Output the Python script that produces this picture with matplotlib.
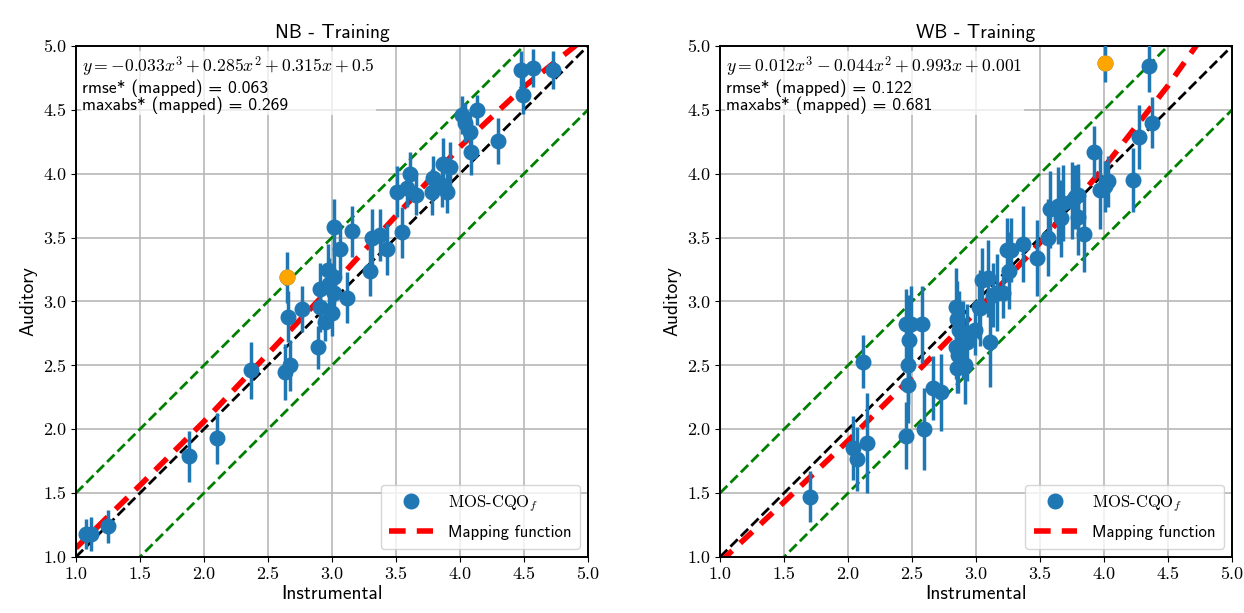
import numpy as np
import matplotlib.pyplot as plt

'''
DATA
'''

# NB - Training: instrumental score, auditory score, confidence interval
nb_x = [1.08, 1.12, 1.25, 1.88, 2.10, 2.37, 2.63, 2.67, 2.66, 2.65,
        2.77, 2.89, 2.91, 2.91, 2.95, 3.00, 2.98, 2.97, 3.02, 3.02,
        3.02, 3.06, 3.12, 3.16, 3.30, 3.31, 3.375, 3.43, 3.55, 3.51,
        3.61, 3.66, 3.59, 3.78, 3.79, 3.86, 3.87, 3.90, 3.92, 4.02,
        4.04, 4.08, 4.09, 4.13, 4.30, 4.48, 4.49, 4.57, 4.73]
nb_y = [1.18, 1.18, 1.24, 1.79, 1.93, 2.46, 2.45, 2.50, 2.88, 3.19,
        2.94, 2.64, 2.96, 3.10, 2.84, 2.91, 3.14, 3.25, 3.19, 3.07,
        3.58, 3.41, 3.03, 3.55, 3.24, 3.50, 3.52, 3.41, 3.54, 3.86,
        4.00, 3.83, 3.89, 3.86, 3.97, 3.91, 4.08, 3.86, 4.05, 4.46,
        4.40, 4.33, 4.17, 4.50, 4.26, 4.81, 4.62, 4.83, 4.81]
nb_err = [0.12, 0.13, 0.13, 0.20, 0.20, 0.22, 0.22, 0.20, 0.20, 0.20,
          0.18, 0.17, 0.20, 0.20, 0.15, 0.18, 0.20, 0.20, 0.20, 0.18,
          0.22, 0.20, 0.20, 0.20, 0.20, 0.22, 0.20, 0.20, 0.20, 0.20,
          0.17, 0.15, 0.15, 0.18, 0.17, 0.17, 0.20, 0.17, 0.20, 0.15,
          0.15, 0.15, 0.18, 0.12, 0.18, 0.15, 0.15, 0.15, 0.15]
nb_worst = (2.65, 3.19)

# Mapping function
nb_map_x = [1.0, 1.5, 2.0, 2.5, 3.0, 3.5, 4.0, 4.5, 5.0]
nb_map_y = [1.07, 1.56, 2.06, 2.59, 3.12, 3.67, 4.21, 4.68, 5.08]
nb_text = ('$y = -0.033x^3 + 0.285x^2 + 0.315x + 0.5$\n'
           'rmse* (mapped) = 0.063\n'
           'maxabs* (mapped) = 0.269')

# WB - Training
wb_x = [1.70, 2.04, 2.07, 2.12, 2.15, 2.45, 2.59, 2.47, 2.47, 2.48,
        2.45, 2.49, 2.58, 2.66, 2.73, 2.84, 2.85, 2.84, 2.86, 2.85,
        2.91, 2.93, 2.90, 2.87, 2.99, 3.03, 3.11, 3.02, 3.05, 3.09,
        3.13, 3.21, 3.16, 3.24, 3.26, 3.27, 3.37, 3.48, 3.56, 3.58,
        3.64, 3.66, 3.68, 3.75, 3.77, 3.80, 3.80, 3.84, 3.92, 3.97,
        4.01, 4.03, 4.01, 4.23, 4.27, 4.375, 4.35]
wb_y = [1.47, 1.85, 1.77, 2.53, 1.89, 1.95, 2.00, 2.35, 2.50, 2.70,
        2.82, 2.82, 2.82, 2.32, 2.29, 2.96, 2.86, 2.64, 2.58, 2.48,
        2.50, 2.68, 2.70, 2.78, 2.78, 2.95, 2.68, 2.96, 3.17, 3.18,
        3.05, 3.07, 3.07, 3.40, 3.24, 3.40, 3.45, 3.34, 3.50, 3.72,
        3.75, 3.65, 3.77, 3.79, 3.82, 3.83, 3.66, 3.53, 4.17, 3.87,
        3.90, 3.94, 4.87, 3.95, 4.29, 4.40, 4.84]
wb_err = [0.20, 0.25, 0.25, 0.21, 0.39, 0.26, 0.32, 0.30, 0.30, 0.35,
          0.28, 0.30, 0.30, 0.25, 0.30, 0.30, 0.30, 0.25, 0.30, 0.20,
          0.30, 0.30, 0.30, 0.30, 0.20, 0.30, 0.35, 0.25, 0.25, 0.30,
          0.25, 0.20, 0.30, 0.25, 0.30, 0.25, 0.30, 0.30, 0.30, 0.30,
          0.30, 0.30, 0.30, 0.30, 0.25, 0.25, 0.30, 0.30, 0.20, 0.30,
          0.20, 0.20, 0.15, 0.25, 0.25, 0.20, 0.20]
wb_worst = (4.01, 4.87)

wb_map_x = [1.0, 1.5, 2.0, 2.5, 3.0, 3.5, 4.0, 4.5, 5.0]
wb_map_y = [0.96, 1.43, 1.91, 2.41, 2.92, 3.46, 4.05, 4.69, 5.40]
wb_text = ('$y = 0.012x^3 - 0.044x^2 + 0.993x + 0.001$\n'
           'rmse* (mapped) = 0.122\n'
           'maxabs* (mapped) = 0.681')

# Identity line and +/- 0.5 band
ref_x = [1.0, 5.0]
ref_y = [1.0, 5.0]
band = 0.5
ticks = [1.0, 1.5, 2.0, 2.5, 3.0, 3.5, 4.0, 4.5, 5.0]

'''
DATA VISUALIZATION
'''

plt.rcParams['mathtext.fontset'] = 'cm'
plt.rcParams['font.family'] = ['cmss10', 'DejaVu Sans']
plt.rcParams['axes.unicode_minus'] = False

fig = plt.figure(figsize=(12.44, 6.13), dpi=100)
ax_nb = fig.add_axes([0.061, 0.0914, 0.4116, 0.8336])
ax_wb = fig.add_axes([0.5788, 0.0914, 0.4116, 0.8336])


def show_training_graph(ax, title, xdata, ydata, err, worst, map_x, map_y, text):
    # Reference lines
    ax.plot(ref_x, ref_y, '--', color='black', lw=2, zorder=2)
    ax.plot(ref_x, [v + band for v in ref_y], '--', color='green', lw=2, zorder=2)
    ax.plot(ref_x, [v - band for v in ref_y], '--', color='green', lw=2, zorder=2)
    ax.plot(map_x, map_y, '--', color='red', lw=4, dashes=(3, 2),
            zorder=2.5, label='Mapping function')

    # Points with confidence intervals
    ax.errorbar(xdata, ydata, yerr=err, fmt='none', ecolor='#1f77b4',
                elinewidth=2.5, zorder=3)
    ax.plot(xdata, ydata, 'o', color='#1f77b4', ms=10.5, zorder=4,
            label='MOS-CQO$_f$')
    ax.plot([worst[0]], [worst[1]], 'o', color='orange', ms=10.5, zorder=5)

    ax.set_xlim(1.0, 5.0)
    ax.set_ylim(1.0, 5.0)
    ax.set_xticks(ticks)
    ax.set_yticks(ticks)
    ax.set_xticklabels(['{0:.1f}'.format(t) for t in ticks], family='cmr10', fontsize=13)
    ax.set_yticklabels(['{0:.1f}'.format(t) for t in ticks], family='cmr10', fontsize=13)
    ax.grid(True, color='#b8b8b8', lw=1.2)
    ax.set_axisbelow(True)
    for spine in ax.spines.values():
        spine.set_linewidth(1.4)

    ax.set_title(title, fontsize=14)
    ax.set_xlabel('Instrumental', fontsize=14, labelpad=2)
    ax.set_ylabel('Auditory', fontsize=14)

    ax.text(0.012, 0.983, text, transform=ax.transAxes, va='top', ha='left',
            fontsize=12.7, linespacing=1.0, zorder=6,
            bbox=dict(facecolor='white', edgecolor='none', alpha=0.75, pad=1))

    handles, labels = ax.get_legend_handles_labels()
    leg = ax.legend(handles[::-1], labels[::-1], loc='lower right', fontsize=12,
                    handlelength=2.6, borderpad=0.5, labelspacing=0.7,
                    handletextpad=0.9)
    leg.get_texts()[0].set_family('cmr10')


show_training_graph(ax_nb, 'NB - Training', nb_x, nb_y, nb_err, nb_worst,
                    nb_map_x, nb_map_y, nb_text)
show_training_graph(ax_wb, 'WB - Training', wb_x, wb_y, wb_err, wb_worst,
                    wb_map_x, wb_map_y, wb_text)

fig.savefig('out.png', dpi=100)
